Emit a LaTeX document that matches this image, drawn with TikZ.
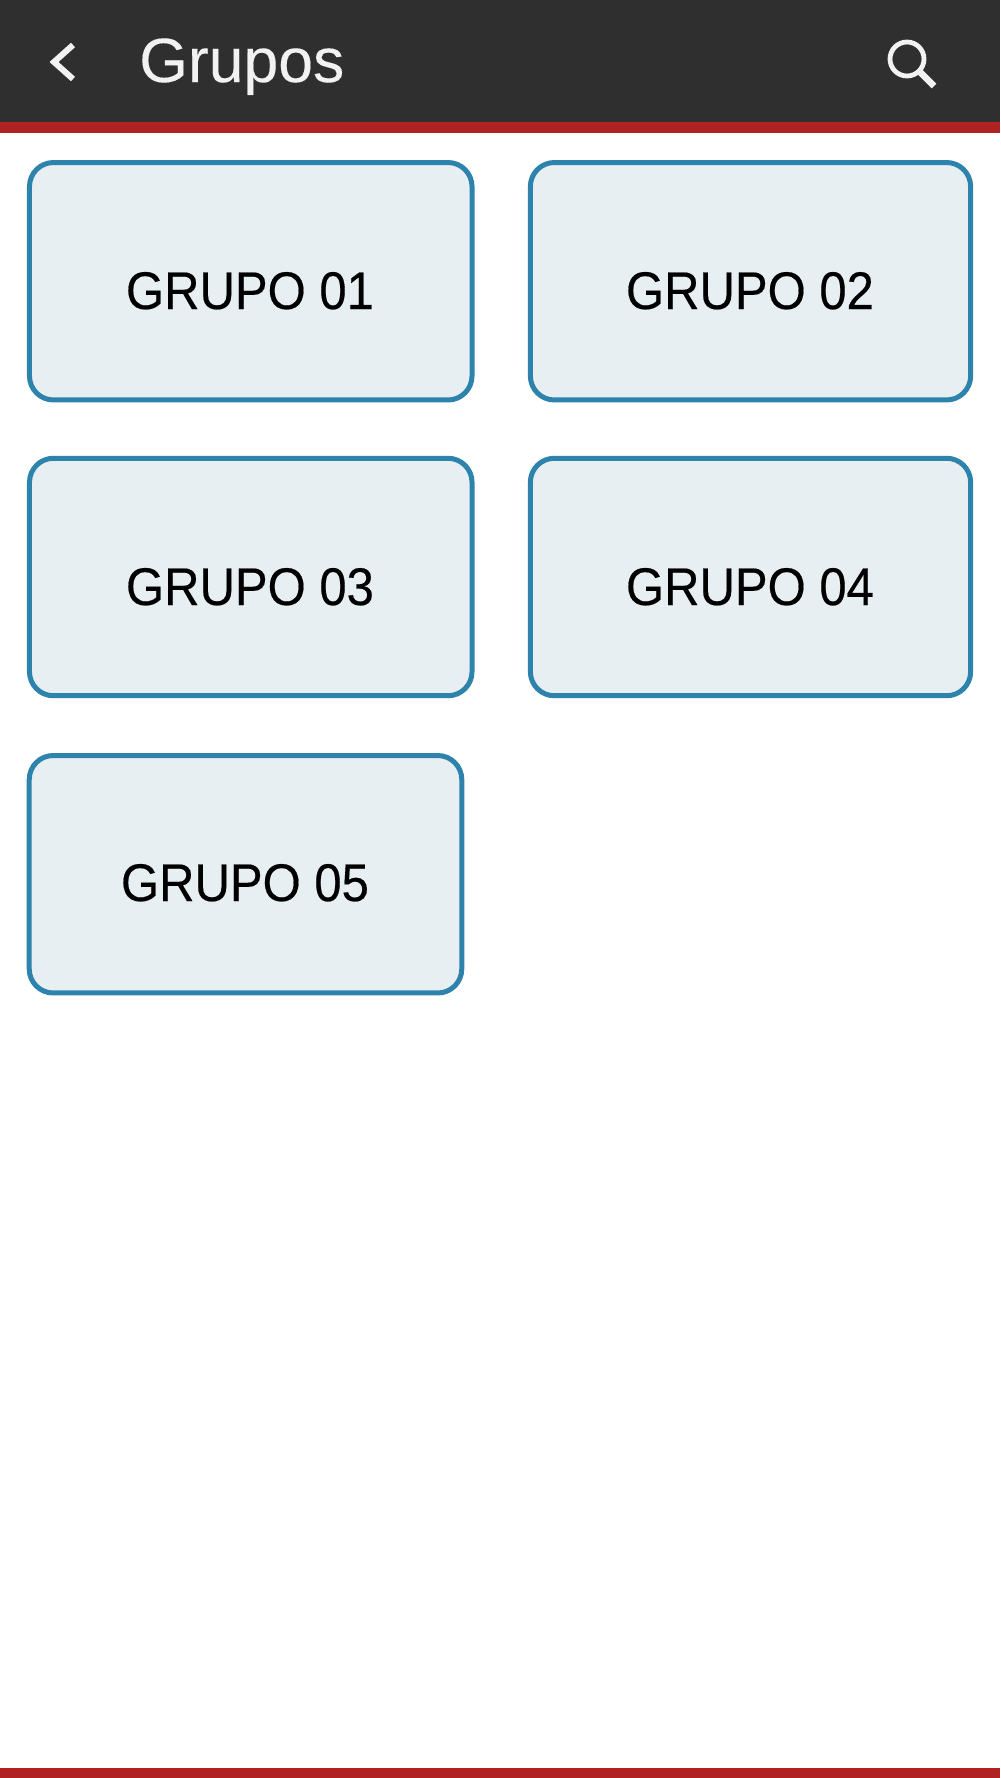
\documentclass[tikz,border=0pt]{standalone}
\usepackage{fontspec}
\setmainfont{Liberation Sans}
\newfontfamily\labelfont[FakeStretch=0.925,FakeBold=0.35]{Liberation Sans}
\newfontfamily\titlefont[FakeBold=0.15]{Liberation Sans}
\definecolor{barDark}{HTML}{2F2F2F}
\definecolor{barRed}{HTML}{B02121}
\definecolor{cardFill}{HTML}{E8EFF3}
\definecolor{cardEdge}{HTML}{2E83AD}
\definecolor{iconWhite}{HTML}{F2F2F2}
\tikzset{
  card/.style={draw=cardEdge,fill=cardFill,line width=3.75pt,rounded corners=18pt,minimum height=178.1pt,outer sep=0pt,inner sep=0pt,text width=0pt},
  cardwide/.style={card,minimum width=331.9pt},
  cardright/.style={card,minimum width=330.2pt},
  cardshort/.style={card,minimum width=324.4pt},
  cardtext/.style={anchor=base west,inner sep=0pt,outer sep=0pt,text=black,font=\fontsize{39.75pt}{40pt}\labelfont},
  icon/.style={draw=iconWhite,line width=4.5pt}
}
\begin{document}
\begin{tikzpicture}[x=0.75pt,y=-0.75pt]
\useasboundingbox (0,0) rectangle (1000,1778);
\fill[white] (0,0) rectangle (1000,1778);
\fill[barDark] (0,0) rectangle (1000,122);
\fill[barRed] (0,122) rectangle (1000,133);
\fill[barRed] (0,1768) rectangle (1000,1778);
% header
\coordinate (chevTop) at (73,45);
\coordinate (chevTip) at (54,62);
\coordinate (chevBot) at (73,79);
\draw[icon,line cap=butt] (chevTop) -- (chevTip) -- (chevBot);
\node[anchor=base west,inner sep=0pt,text=iconWhite,font=\fontsize{46.9pt}{47pt}\titlefont] (title) at (139,82) {Grupos};
\node[circle,icon,line width=3.6pt,minimum size=25.5pt,inner sep=0pt,outer sep=0pt] (lens) at (907,59) {};
\coordinate (handleEnd) at (934,86);
\draw[icon,line width=5pt] (lens.south east) -- (handleEnd);
% cards
\node[cardwide] (g1) at (250.75,281.25) {};
\node[cardright] (g2) at (750.5,281.25) {};
\node[cardwide] (g3) at (250.75,577) {};
\node[cardright] (g4) at (750.5,577) {};
\node[cardshort] (g5) at (245.5,874.25) {};
\node[cardtext] (t1) at (126,309) {GRUPO 01};
\node[cardtext] (t2) at (626,309) {GRUPO 02};
\node[cardtext] (t3) at (126,605) {GRUPO 03};
\node[cardtext] (t4) at (626,605) {GRUPO 04};
\node[cardtext] (t5) at (121,901) {GRUPO 05};
\end{tikzpicture}
\end{document}
